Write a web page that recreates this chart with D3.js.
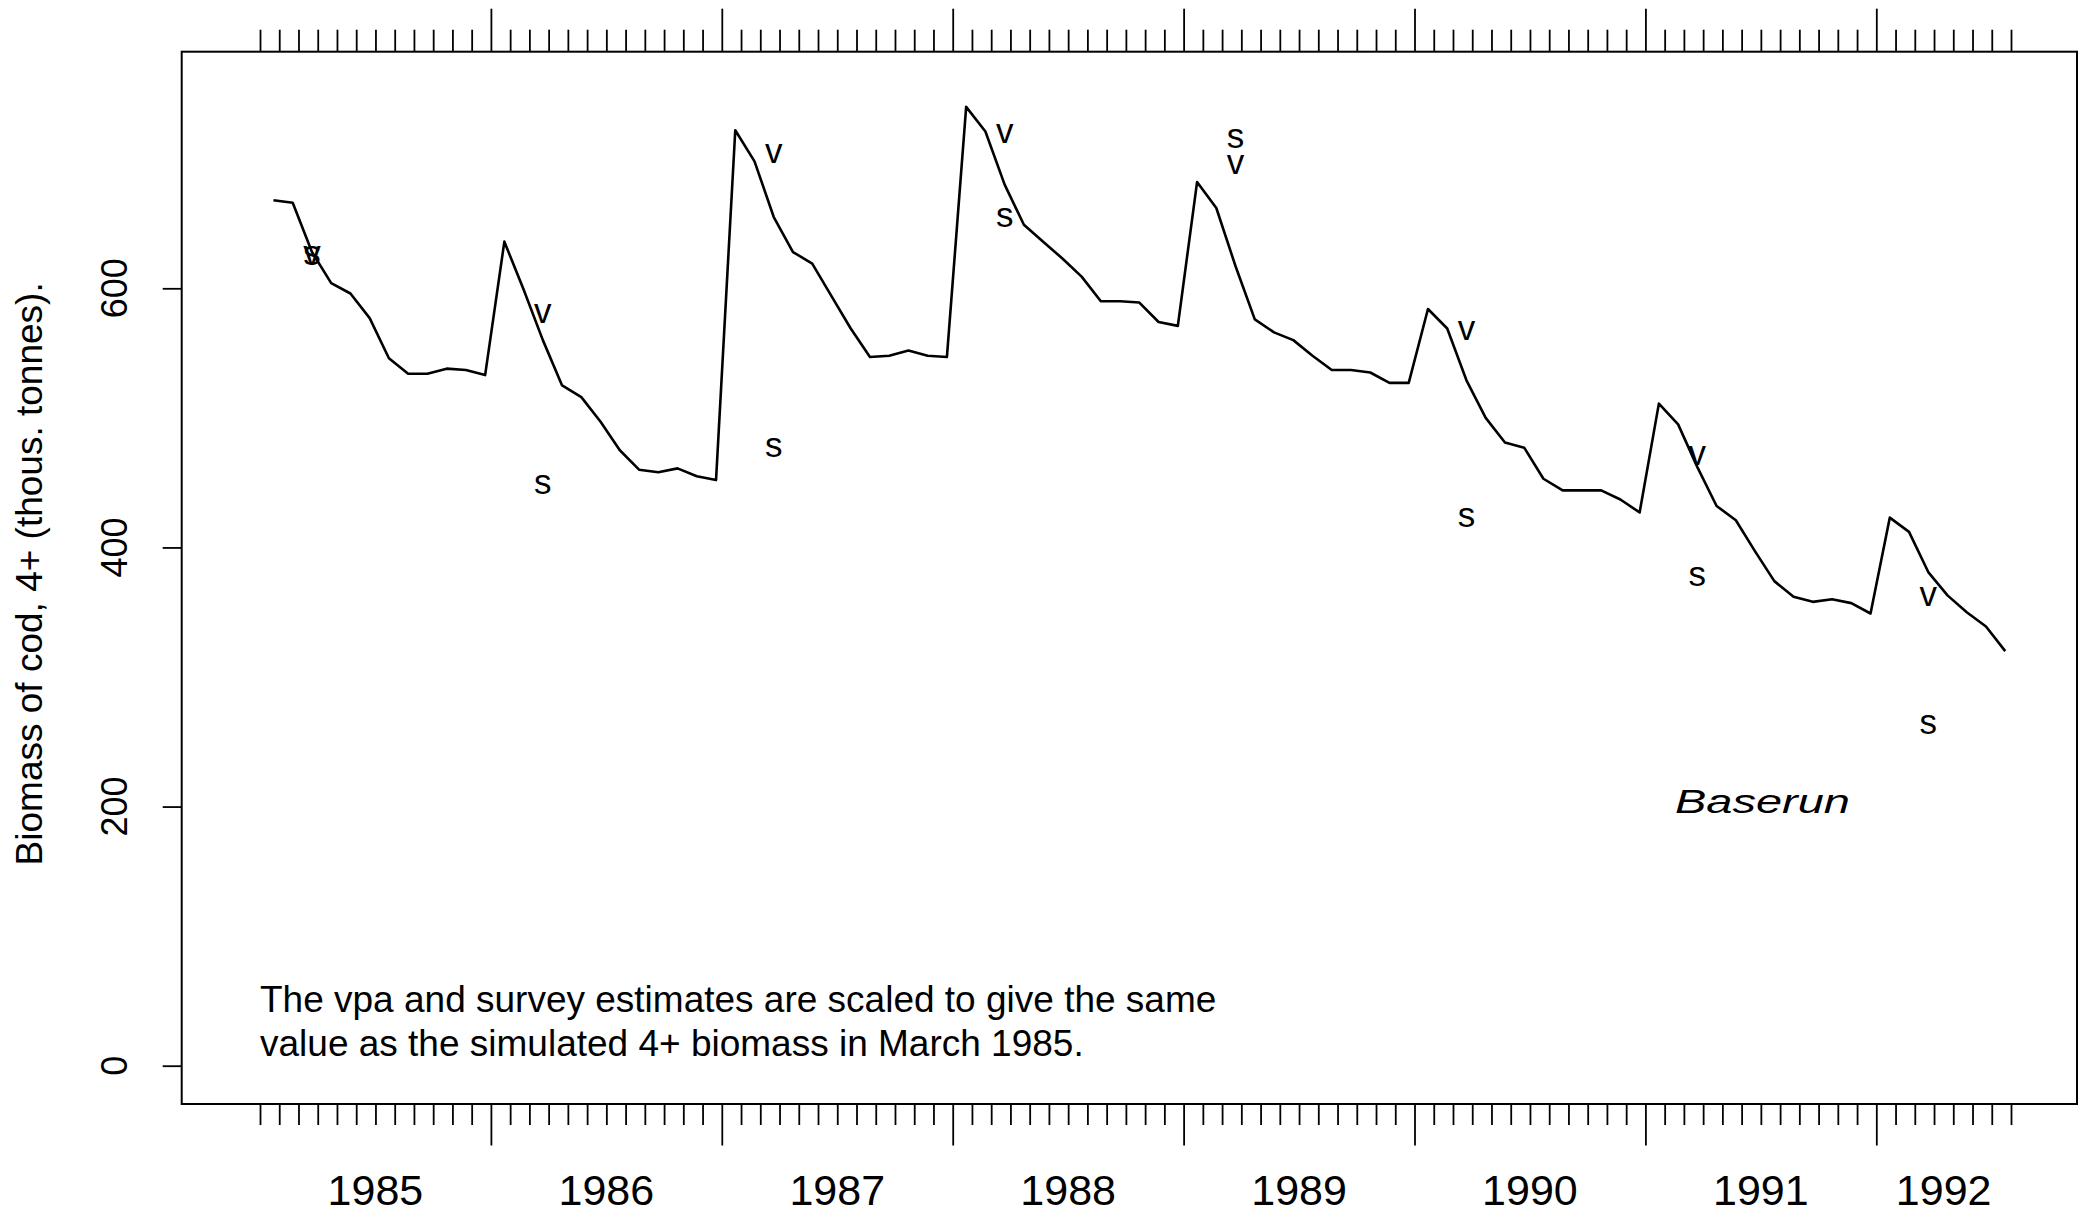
<!DOCTYPE html>
<html>
<head>
<meta charset="utf-8">
<script src="https://cdn.jsdelivr.net/npm/d3@7"></script>
<style>
  html, body { margin: 0; padding: 0; background: #fff; }
  svg { display: block; }
  text { font-family: "Liberation Sans", Arial, Helvetica, sans-serif; fill: #000; }
</style>
</head>
<body>
<svg id="chart" width="2088" height="1217"></svg>
<script>
// Simulated 4+ biomass of cod (thousand tonnes), monthly from January 1985 to July 1992.
const startYear = 1985;
const simulated1985 = [668, 666, 628, 604, 596, 577, 546, 534, 534, 538, 537, 533];
const simulated1986 = [636, 599, 560, 525, 516, 497, 475, 460, 458, 461, 455, 452];
const simulated1987 = [722, 698, 655, 628, 619, 594, 569, 547, 548, 552, 548, 547];
const simulated1988 = [740, 721, 680, 649, 636, 623, 609, 590, 590, 589, 574, 571];
const simulated1989 = [682, 662, 617, 576, 566, 560, 548, 537, 537, 535, 527, 527];
const simulated1990 = [584, 569, 529, 500, 481, 477, 453, 444, 444, 444, 437, 427];
const simulated1991 = [511, 495, 462, 432, 421, 397, 374, 362, 358, 360, 357, 349];
const simulated1992 = [423, 412, 381, 363, 350, 339, 320];

// Scaled annual estimates, plotted in March of each year.
const estimateYears   = [1985, 1986, 1987, 1988, 1989, 1990, 1991, 1992];
const vpaEstimates    = [628, 583, 707, 722, 698, 570, 474, 365];
const surveyEstimates = [628, 451, 480, 657, 718, 426, 380, 266];

// Axis labelling.
const yearLabels = ["1985", "1986", "1987", "1988", "1989", "1990", "1991", "1992"];
const yTicks = [0, 200, 400, 600];
const majorTickYears = [1986, 1987, 1988, 1989, 1990, 1991, 1992];
const monthTickCount = 92; // Jan 1985 .. Aug 1992 boundaries

// position of a sample inside its month (fraction of a month)
const sampleOffset = 0.7;

const simulated = [].concat(simulated1985, simulated1986, simulated1987, simulated1988,
                            simulated1989, simulated1990, simulated1991, simulated1992);
const series = simulated.map((v, i) => ({ t: startYear + (i + sampleOffset) / 12, v }));

const svg = d3.select("#chart");

const frame = { left: 181.7, right: 2077, top: 51.7, bottom: 1104 };

const x = d3.scaleLinear().domain([1985, 1992 + 7 / 12]).range([260, 2011]);
const y = d3.scaleLinear().domain([0, 600]).range([1065.7, 288.3]);

const ink = "#000";

// plot frame
svg.append("rect")
  .attr("x", frame.left).attr("y", frame.top)
  .attr("width", frame.right - frame.left).attr("height", frame.bottom - frame.top)
  .attr("fill", "none").attr("stroke", ink).attr("stroke-width", 2);

// monthly ticks, bottom and top
const monthTicks = d3.range(monthTickCount).map(i => 1985 + i / 12);
const minorTicks = monthTicks.filter(t => !majorTickYears.some(yr => Math.abs(yr - t) < 1e-6));

function tickAxis(axisFn, values, size, yPos) {
  const g = svg.append("g").attr("transform", `translate(0,${yPos})`)
    .call(axisFn(x).tickValues(values).tickSize(size).tickFormat(""));
  g.select(".domain").remove();
  g.selectAll(".tick line").attr("stroke", ink).attr("stroke-width", 1.8);
  return g;
}
tickAxis(d3.axisBottom, minorTicks, 21, frame.bottom);
tickAxis(d3.axisBottom, majorTickYears, 41.5, frame.bottom);
tickAxis(d3.axisTop, minorTicks, 22, frame.top);
tickAxis(d3.axisTop, majorTickYears, 43, frame.top);

// year labels, centred on the months of each year that carry data
svg.append("g").selectAll("text")
  .data(yearLabels)
  .join("text")
  .attr("x", d => {
    const n = series.filter(p => Math.floor(p.t) === +d).length;
    return x(+d + n / 24);
  })
  .attr("y", 1205)
  .attr("text-anchor", "middle")
  .attr("font-size", 43)
  .text(d => d);

// left axis
const yAxis = svg.append("g").attr("transform", `translate(${frame.left},0)`)
  .call(d3.axisLeft(y).tickValues(yTicks).tickSize(19).tickFormat(""));
yAxis.select(".domain").remove();
yAxis.selectAll(".tick line").attr("stroke", ink).attr("stroke-width", 1.8);

svg.append("g").selectAll("text")
  .data(yTicks)
  .join("text")
  .attr("transform", d => `translate(127,${y(d)}) rotate(-90)`)
  .attr("text-anchor", "middle")
  .attr("font-size", 36)
  .text(d => d);

svg.append("text")
  .attr("transform", `translate(42,${(frame.top + frame.bottom) / 2 - 4}) rotate(-90)`)
  .attr("text-anchor", "middle")
  .attr("font-size", 37)
  .text("Biomass of cod, 4+ (thous. tonnes).");

// simulated biomass
svg.append("path")
  .datum(series)
  .attr("fill", "none")
  .attr("stroke", ink)
  .attr("stroke-width", 2.6)
  .attr("stroke-linejoin", "round")
  .attr("d", d3.line().x(d => x(d.t)).y(d => y(d.v)));

// vpa (v) and survey (s) estimates as character symbols, in March
const marchT = yr => yr + (2 + sampleOffset) / 12;
function charMarks(values, ch) {
  svg.append("g").selectAll("text")
    .data(values)
    .join("text")
    .attr("x", (d, i) => x(marchT(estimateYears[i])))
    .attr("y", d => y(d))
    .attr("dy", "0.37em")
    .attr("text-anchor", "middle")
    .attr("font-size", 35)
    .text(ch);
}
charMarks(vpaEstimates, "v");
charMarks(surveyEstimates, "s");

// explanatory note
const note = svg.append("text").attr("font-size", 37);
note.append("tspan").attr("x", 260).attr("y", 1012)
  .text("The vpa and survey estimates are scaled to give the same");
note.append("tspan").attr("x", 260).attr("y", 1056)
  .text("value as the simulated 4+ biomass in March 1985.");

// run name
svg.append("text")
  .attr("x", 1675).attr("y", 813)
  .attr("font-family", "'DejaVu Sans', sans-serif")
  .attr("font-style", "italic")
  .attr("font-weight", 300)
  .attr("font-size", 34)
  .attr("textLength", 175)
  .attr("lengthAdjust", "spacingAndGlyphs")
  .text("Baserun");
</script>
</body>
</html>
